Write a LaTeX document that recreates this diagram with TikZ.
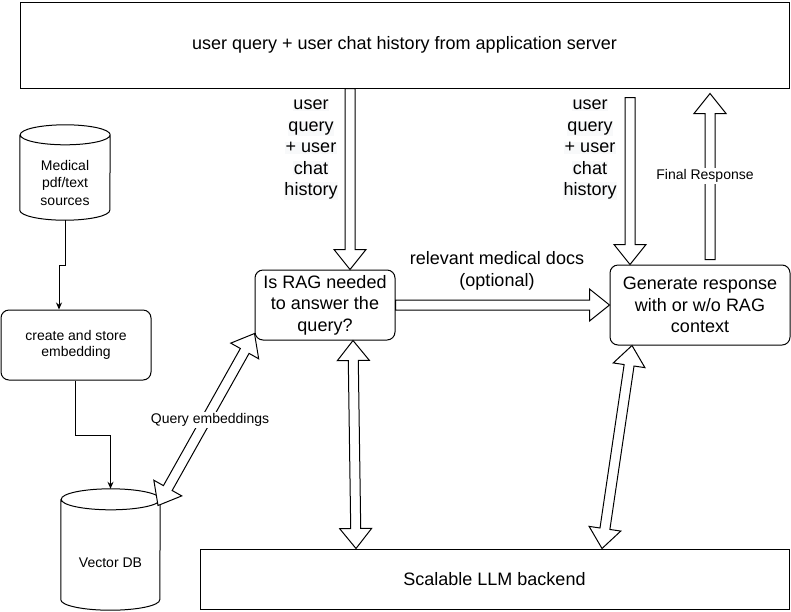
\documentclass[tikz,border=0pt]{standalone}
\usepackage{fontspec}
\setmainfont{Liberation Sans}
\usepackage{tikz}
\usetikzlibrary{shapes.geometric, arrows.meta, positioning, calc}
\usepackage{xcolor}
\definecolor{lblGray}{HTML}{F8F9FA}
\newcommand{\hl}[1]{{\setlength{\fboxsep}{0.5pt}\colorbox{lblGray}{#1}}}
\newcommand{\flexarrow}[2]{%
    \coordinate (fa-h) at ($(#2)!20pt!(#1)$);
    \draw[line width=1pt, fill=white] ($(#1)!5pt!90:(#2)$) -- ($(fa-h)!5pt!90:(#2)$) -- ($(fa-h)!16pt!90:(#2)$) -- (#2)
        -- ($(fa-h)!16pt!-90:(#2)$) -- ($(fa-h)!5pt!-90:(#2)$) -- ($(#1)!5pt!-90:(#2)$) -- cycle;
}
\newcommand{\flexdarrow}[2]{%
    \coordinate (fa-a) at ($(#1)!20pt!(#2)$);
    \coordinate (fa-b) at ($(#2)!20pt!(#1)$);
    \draw[line width=1pt, fill=white] (#1) -- ($(fa-a)!16pt!90:(#2)$) -- ($(fa-a)!5pt!90:(#2)$) -- ($(fa-b)!5pt!90:(#2)$)
        -- ($(fa-b)!16pt!90:(#2)$) -- (#2) -- ($(fa-b)!16pt!-90:(#2)$) -- ($(fa-b)!5pt!-90:(#2)$)
        -- ($(fa-a)!5pt!-90:(#2)$) -- ($(fa-a)!16pt!-90:(#2)$) -- cycle;
}
% cylinder outline round a named node: node, x radius, y radius
\newcommand{\dbshape}[3]{%
    \draw[line width=1pt] ($(#1.north west)+(0,#3)$) -- ($(#1.south west)+(0,-#3)$)
        arc[start angle=180, end angle=0, x radius=#2, y radius=#3]
        -- ($(#1.north east)+(0,#3)$)
        arc[start angle=0, end angle=-180, x radius=#2, y radius=#3]
        arc[start angle=180, end angle=0, x radius=#2, y radius=#3];
}

\begin{document}
\begin{tikzpicture}[
    x=1pt, y=-1pt,
    box/.style={rectangle, draw, line width=1pt, align=center, font=\fontsize{18}{21.5}\selectfont},
    rbox/.style={box, rounded corners=8pt},
    dbbox/.style={rectangle, inner sep=0pt},
    smalltxt/.style={align=center, font=\fontsize{14}{17.5}\selectfont},
    lbl/.style={align=center, inner sep=0pt, font=\fontsize{18}{21.5}\selectfont},
    flow/.style={line width=1pt, -{Stealth[length=7pt, width=6pt]}},
]
    \useasboundingbox (0,0) rectangle (791,611);

    \node[box, minimum width=769pt, minimum height=86pt] (top) at (404.5,45) {user query + user chat history from application server};
    \node[dbbox, minimum width=90pt, minimum height=95pt,
          label={[smalltxt, yshift=-10pt]center:Medical\\pdf/text\\sources}] (med) at (65,172.5) {};
    \node[rbox, minimum width=150pt, minimum height=70pt, font=\fontsize{14}{16.5}\selectfont] (create) at (76,345) {create and store\\embedding};
    \node[dbbox, minimum width=99pt, minimum height=121pt,
          label={[smalltxt, yshift=-13pt]center:Vector DB}] (vdb) at (110.5,549.5) {};
    \node[rbox, minimum width=140pt, minimum height=70pt] (rag) at (325,305) {Is RAG needed\\to answer the\\query?};
    \node[rbox, minimum width=180pt, minimum height=80pt] (gen) at (700,305) {Generate response\\with or w/o RAG\\context};
    \node[box, minimum width=589pt, minimum height=60pt] (llm) at (494.5,579) {Scalable LLM backend};
    \dbshape{med}{45}{10}
    \dbshape{vdb}{49.5}{10.5}

    \coordinate (q1) at ([xshift=25pt]rag.north);
    \coordinate (q2) at ([xshift=-70pt]gen.north);
    \coordinate (q2s) at ($(top.south -| q2)+(0,9)$);
    \coordinate (r1) at ($(gen.north)+(10,-5)$);
    \coordinate (r2) at ($(top.south -| r1)+(0,5)$);
    \coordinate (e1) at ($(rag.south west)+(0,-7)$);
    \coordinate (e2) at ($(vdb.center)+(47.5,-44)$);
    \coordinate (l1) at ($(rag.south)+(28,0)$);
    \coordinate (l2) at ($(llm.north -| l1)+(3,0)$);
    \coordinate (g1) at ($(gen.south)+(-68,0)$);
    \coordinate (g2) at ($(llm.north -| g1)+(-30,0)$);

    \draw[flow] (med.south) -- ++(0,45) -| ([xshift=-17pt]create.north);
    \draw[flow] ([xshift=-1pt]create.south) -- ++(0,55) -| (vdb.north);

    \flexarrow{top.south -| q1}{q1}
    \flexarrow{q2s}{q2}
    \flexarrow{r1}{r2}
    \flexarrow{rag.east}{gen.west}
    \flexdarrow{e1}{e2}
    \flexdarrow{l1}{l2}
    \flexdarrow{g1}{g2}

    \node[lbl] (hist1) at (311,150) {\hl{user}\\\hl{query}\\\hl{+ user}\\\hl{chat}\\\hl{history}};
    \node[lbl] (hist2) at (590,150) {\hl{user}\\\hl{query}\\\hl{+ user}\\\hl{chat}\\\hl{history}};
    \node[lbl] (docs) at (497,271) {relevant medical docs\\(optional)};
    \node[smalltxt, fill=white, inner sep=1pt] (final) at (705,176) {Final Response};
    \node[smalltxt, fill=white, inner sep=1pt] (qemb) at (210,420) {Query embeddings};
\end{tikzpicture}
\end{document}
